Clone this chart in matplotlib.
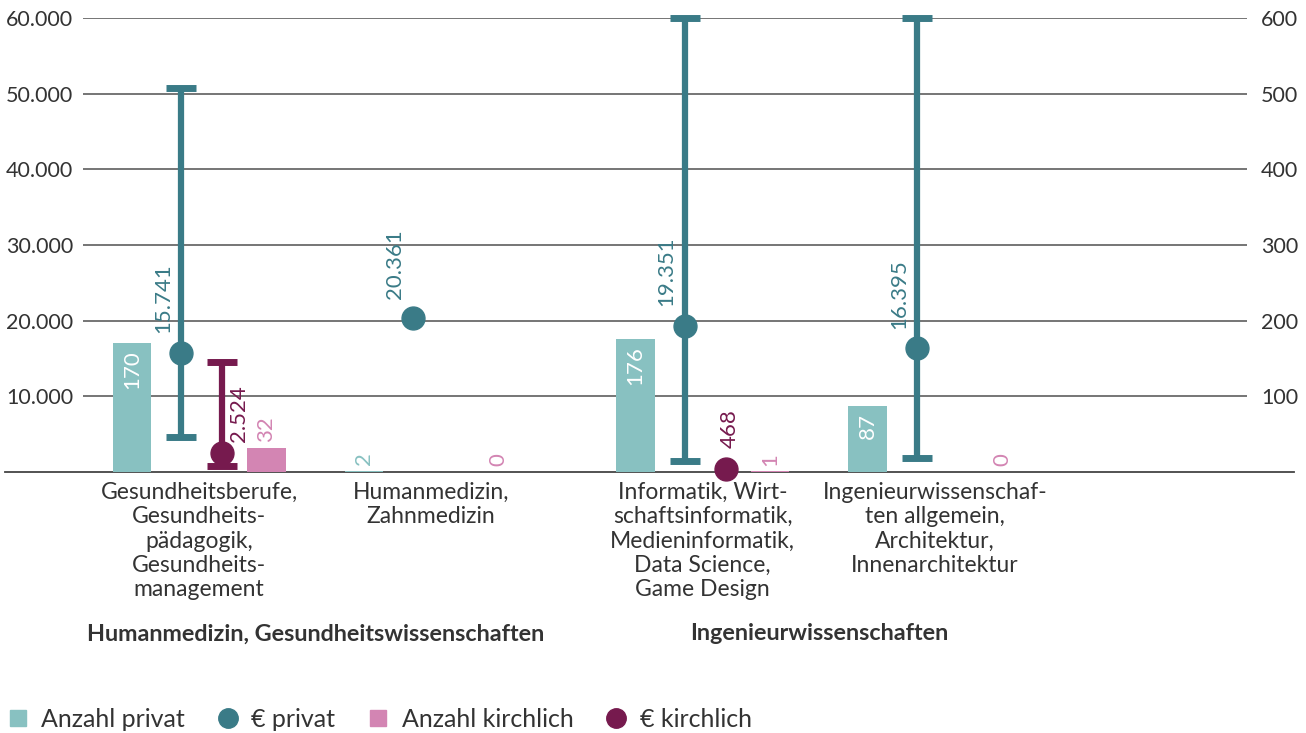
import numpy as np
import matplotlib.pyplot as plt
from matplotlib.lines import Line2D

plt.rcParams['font.family'] = ['Lato', 'DejaVu Sans']

categories = ["Gesundheitsberufe,\nGesundheits-\npädagogik,\nGesundheits-\nmanagement",
              "Humanmedizin,\nZahnmedizin",
              "Informatik, Wirt-\nschaftsinformatik,\nMedieninformatik,\nData Science,\nGame Design",
              "Ingenieurwissenschaf-\nten allgemein,\nArchitektur,\nInnenarchitektur"]
groups = ["Humanmedizin, Gesundheitswissenschaften", "Ingenieurwissenschaften"]

anzahl_privat = [170, 2, 176, 87]
anzahl_kirchlich = [32, 0, 1, 0]
euro_privat = [15741, 20361, 19351, 16395]
euro_privat_min = [4620, None, 1450, 1850]
euro_privat_max = [50700, None, 60000, 60000]
euro_kirchlich = [2524, None, 468, None]
euro_kirchlich_min = [800, None, None, None]
euro_kirchlich_max = [14530, None, None, None]

c_bar_p = '#88c1c1'
c_dot_p = '#3a7b87'
c_bar_k = '#d385b3'
c_dot_k = '#761a4e'
c_text = '#333333'

xpos = np.array([0, 1, 2.17, 3.17])
bw = 0.165

def fmt(v):
    return f"{v:,}".replace(",", ".")

fig = plt.figure(figsize=(13.06, 7.33), dpi=100)
ax = fig.add_axes([0.0636, 0.356, 0.8913, 0.6194])
ax2 = ax.twinx()
# euro axis (left) on top of the count axis (right)
ax.set_zorder(ax2.get_zorder() + 1)
ax.patch.set_visible(False)

ax.set_ylim(0, 60000)
ax2.set_ylim(0, 600)
ax.set_xlim(-0.5, 4.515)
ax.set_yticks(np.arange(10000, 60001, 10000))
ax.set_yticklabels([fmt(v) for v in range(10000, 60001, 10000)])
ax2.set_yticks(np.arange(100, 601, 100))
ax2.grid(axis='y', color='#6a6a6a', linewidth=1.3)
ax2.set_axisbelow(True)
for a in (ax, ax2):
    for s in a.spines.values():
        s.set_visible(False)
    a.tick_params(length=0, labelsize=15.5, labelcolor=c_text)
ax.tick_params(axis='y', pad=7)
ax2.tick_params(axis='y', pad=10)
ax.set_xticks([])

# zero line extending below labels
ax2.axhline(0, xmin=-0.067, xmax=1.04, color='#444444', linewidth=1.3, clip_on=False, zorder=1)

# bars on right axis
ax2.bar(xpos - 0.29, anzahl_privat, bw, color=c_bar_p, zorder=2)
ax2.bar(xpos + 0.29, anzahl_kirchlich, bw, color=c_bar_k, zorder=2)
for x, v in zip(xpos - 0.29, anzahl_privat):
    if v > 50:
        ax2.annotate(str(v), (x, v), xytext=(0, -5), textcoords='offset points',
                     rotation=90, ha='center', va='top', color='white', fontsize=16)
    else:
        ax2.annotate(str(v), (x, v), xytext=(0, 4), textcoords='offset points',
                     rotation=90, ha='center', va='bottom', color=c_bar_p, fontsize=16)
for x, v in zip(xpos + 0.29, anzahl_kirchlich):
    ax2.annotate(str(v), (x, v), xytext=(0, 4), textcoords='offset points',
                 rotation=90, ha='center', va='bottom', color=c_bar_k, fontsize=16)

# euro points with min/max ranges on left axis
for i, x in enumerate(xpos):
    xp = x - 0.078
    v = euro_privat[i]
    if euro_privat_min[i] is not None:
        ax.errorbar(xp, v, yerr=[[v - euro_privat_min[i]], [euro_privat_max[i] - v]],
                    fmt='o', color=c_dot_p, ms=16.5, elinewidth=4.5, capsize=11,
                    capthick=5, zorder=4, clip_on=False)
    else:
        ax.plot(xp, v, 'o', color=c_dot_p, ms=16.5, zorder=4)
    ax.annotate(fmt(v), (xp, v), xytext=(-13, 14), textcoords='offset points',
                rotation=90, ha='center', va='bottom', color=c_dot_p, fontsize=16)

    v = euro_kirchlich[i]
    if v is None:
        continue
    xk = x + 0.1
    if euro_kirchlich_min[i] is not None:
        ax.errorbar(xk, v, yerr=[[v - euro_kirchlich_min[i]], [euro_kirchlich_max[i] - v]],
                    fmt='o', color=c_dot_k, ms=16.5, elinewidth=4.5, capsize=11,
                    capthick=5, zorder=4, clip_on=False)
        ax.annotate(fmt(v), (xk, v), xytext=(12, 8), textcoords='offset points',
                    rotation=90, ha='center', va='bottom', color=c_dot_k, fontsize=16)
    else:
        ax.plot(xk, v, 'o', color=c_dot_k, ms=16.5, zorder=4, clip_on=False)
        ax.annotate(fmt(v), (xk, v), xytext=(3, 15), textcoords='offset points',
                    rotation=90, ha='center', va='bottom', color=c_dot_k, fontsize=16)

# category labels
for x, lab in zip(xpos, categories):
    ax.annotate(lab, (x, 0), xytext=(0, -7), textcoords='offset points',
                ha='center', va='top', fontsize=16.5, color=c_text, linespacing=1.2,
                annotation_clip=False)
grp_x = [(xpos[0] + xpos[1]) / 2, (xpos[2] + xpos[3]) / 2]
for gx, g in zip(grp_x, groups):
    ax.annotate(g, (gx, 0), xytext=(0, -109), textcoords='offset points',
                ha='center', va='top', fontsize=16.8, fontweight='bold', color=c_text,
                annotation_clip=False)

handles = [
    Line2D([], [], marker='s', ls='', color=c_bar_p, ms=12),
    Line2D([], [], marker='o', ls='', color=c_dot_p, ms=14),
    Line2D([], [], marker='s', ls='', color=c_bar_k, ms=12),
    Line2D([], [], marker='o', ls='', color=c_dot_k, ms=14),
]
fig.legend(handles, ["Anzahl privat", "€ privat", "Anzahl kirchlich", "€ kirchlich"],
           loc='lower left', bbox_to_anchor=(0.004, 0.003), ncol=4, frameon=False,
           fontsize=18, handletextpad=0.45, columnspacing=1.2, labelcolor=c_text,
           handlelength=1.0, borderpad=0, borderaxespad=0)

fig.savefig('out.png', dpi=100)
